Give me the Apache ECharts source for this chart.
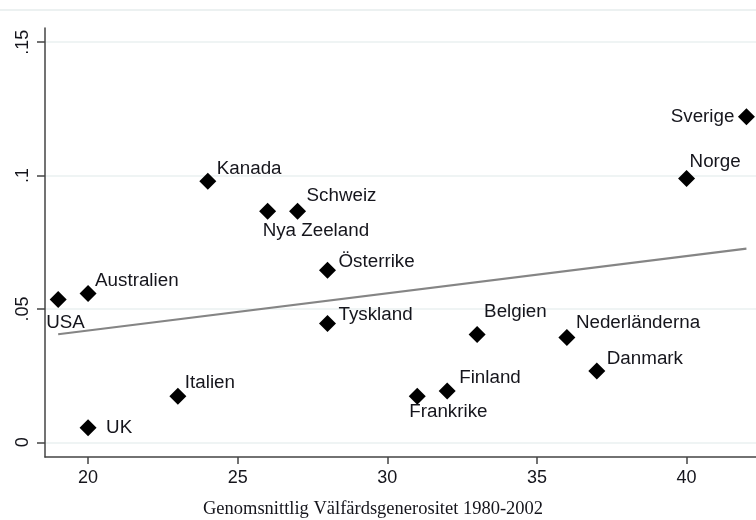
<!DOCTYPE html>
<html>
<head>
<meta charset="utf-8">
<script src="https://cdn.jsdelivr.net/npm/echarts@6/dist/echarts.min.js"></script>
<style>
  html, body { margin: 0; padding: 0; background: #ffffff; }
  #chart { width: 756px; height: 520px; }
</style>
</head>
<body>
<div id="chart"></div>
<script>
// Country observations: average welfare generosity vs. outcome
const countries = ['USA', 'Australien', 'UK', 'Italien', 'Kanada', 'Nya Zeeland', 'Schweiz',
  'Österrike', 'Tyskland', 'Frankrike', 'Finland', 'Belgien', 'Nederländerna', 'Danmark',
  'Norge', 'Sverige'];
const generosity = [19, 20, 20, 23, 24, 26, 27, 28, 28, 31, 32, 33, 36, 37, 40, 42];
const outcome = [0.0535, 0.0558, 0.0055, 0.0173, 0.0979, 0.0866, 0.0866, 0.0645, 0.0445,
  0.0173, 0.0192, 0.0404, 0.0393, 0.0267, 0.0989, 0.122];

// Fitted line endpoints
const fitX = [19, 42];
const fitY = [0.0405, 0.0726];

// Tick labels
const xTicks = [20, 25, 30, 35, 40];
const yTicks = [0, 0.05, 0.1, 0.15];
const yTickLabels = ['0', '.05', '.1', '.15'];
const xTitle = 'Genomsnittlig Välfärdsgenerositet 1980-2002';

// Label placement around each marker (pixel offsets from marker centre)
const labelPlacement = {
  'USA': { offset: [-12, 23] },
  'Australien': { offset: [7, -13] },
  'UK': { offset: [18, 0] },
  'Italien': { offset: [7, -13] },
  'Kanada': { offset: [9, -12] },
  'Nya Zeeland': { offset: [-5, 20] },
  'Schweiz': { offset: [9, -15] },
  'Österrike': { offset: [11, -8] },
  'Tyskland': { offset: [11, -9] },
  'Frankrike': { offset: [-8, 16] },
  'Finland': { offset: [12, -13] },
  'Belgien': { offset: [7, -23] },
  'Nederländerna': { offset: [9, -15] },
  'Danmark': { offset: [10, -12] },
  'Norge': { offset: [3, -17] },
  'Sverige': { offset: [-12, 0], align: 'right' }
};

const sans = '"Liberation Sans", Arial, sans-serif';
const serif = '"Liberation Serif", "Times New Roman", serif';
const textColor = '#15151c';

const scatterData = countries.map((name, i) => {
  const p = labelPlacement[name];
  return {
    name: name,
    value: [generosity[i], outcome[i]],
    label: { offset: p.offset, align: p.align || 'left' }
  };
});

const chart = echarts.init(document.getElementById('chart'), null, { renderer: 'canvas' });

chart.setOption({
  animation: false,
  backgroundColor: '#ffffff',
  grid: { left: 45, right: 0, top: 28, bottom: 63 },
  xAxis: {
    type: 'value',
    min: 18.56,
    max: 42.32,
    axisLine: { show: true, onZero: false, lineStyle: { color: '#444', width: 1.5 } },
    axisTick: { show: true, length: 7, customValues: xTicks, lineStyle: { color: '#444', width: 1.5 } },
    axisLabel: { customValues: xTicks, margin: 12, fontSize: 18, fontFamily: sans, color: textColor },
    splitLine: { show: false }
  },
  yAxis: {
    type: 'value',
    min: -0.0055,
    max: 0.1553,
    axisLine: { show: true, onZero: false, lineStyle: { color: '#444', width: 1.5 } },
    axisTick: { show: true, length: 8, customValues: yTicks, lineStyle: { color: '#444', width: 1.5 } },
    axisLabel: {
      customValues: yTicks,
      rotate: 90,
      margin: 13,
      fontSize: 18,
      fontFamily: sans,
      color: textColor,
      formatter: v => {
        const k = yTicks.findIndex(t => Math.abs(t - v) < 1e-9);
        return k >= 0 ? yTickLabels[k] : '';
      }
    },
    splitLine: { show: true, lineStyle: { color: '#eaf0f0', width: 1.5 } }
  },
  graphic: [
    {
      type: 'line',
      shape: { x1: 0, y1: 10, x2: 756, y2: 10 },
      style: { stroke: '#e6ecec', lineWidth: 1.5 },
      silent: true
    },
    {
      type: 'text',
      x: 373,
      y: 509,
      style: {
        text: xTitle,
        font: '18.5px ' + serif,
        fill: textColor,
        align: 'center',
        verticalAlign: 'middle'
      },
      silent: true
    }
  ],
  series: [
    {
      type: 'line',
      data: fitX.map((x, i) => [x, fitY[i]]),
      showSymbol: false,
      symbol: 'none',
      lineStyle: { color: '#858585', width: 2.2 },
      silent: true,
      z: 1
    },
    {
      type: 'scatter',
      data: scatterData,
      symbol: 'diamond',
      symbolSize: [17, 17],
      itemStyle: { color: '#000000', opacity: 1 },
      label: {
        show: true,
        position: 'inside',
        formatter: '{b}',
        verticalAlign: 'middle',
        fontSize: 18.8,
        fontFamily: sans,
        color: textColor
      },
      silent: true,
      z: 3
    }
  ]
});
</script>
</body>
</html>
